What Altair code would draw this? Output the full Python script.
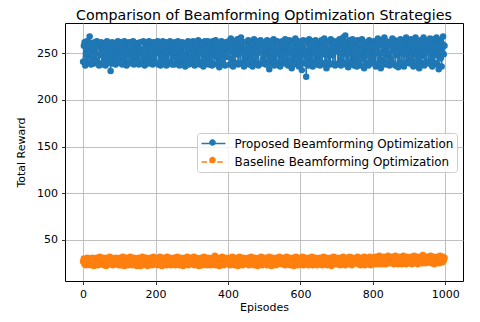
import altair as alt
import pandas as pd

episodes = list(range(0, 1000, 2))

proposed = [
    241, 258, 262, 237, 255, 263, 246, 240, 259, 268, 251, 238, 261, 256, 244, 239, 262, 250, 242, 263, 257, 240, 237, 260, 248,
    262, 238, 253, 260, 241, 258, 237, 246, 263, 259, 240, 255, 243, 231, 250, 262, 239, 257, 245, 261, 238, 254, 241, 263, 247,
    259, 240, 262, 251, 238, 257, 244, 263, 241, 255, 237, 261, 250, 239, 262, 253, 240, 259, 245, 263, 238, 252, 261, 241, 256,
    243, 261, 238, 255, 262, 240, 253, 239, 263, 248, 237, 259, 242, 262, 256, 239, 263, 247, 240, 260, 252, 238, 262, 244, 257,
    240, 259, 250, 263, 238, 254, 261, 237, 258, 243, 263, 240, 256, 244, 262, 237, 251, 260, 241, 257, 263, 239, 252, 238, 261,
    252, 238, 262, 245, 259, 240, 263, 254, 237, 260, 243, 256, 262, 239, 258, 248, 236, 261, 242, 257, 263, 238, 247, 262, 240,
    259, 239, 263, 252, 237, 261, 244, 258, 240, 264, 250, 238, 262, 255, 241, 260, 236, 253, 263, 239, 257, 245, 263, 238, 256,
    241, 260, 250, 237, 263, 255, 239, 258, 264, 246, 238, 261, 252, 235, 259, 242, 263, 250, 239, 260, 254, 237, 262, 246, 258,
    253, 263, 238, 257, 266, 244, 261, 236, 255, 263, 240, 258, 249, 265, 238, 261, 252, 240, 267, 256, 239, 262, 236, 255, 245,
    262, 240, 256, 264, 238, 252, 263, 243, 260, 236, 254, 265, 241, 259, 239, 263, 250, 237, 262, 255, 264, 239, 257, 243, 261,
    248, 262, 238, 256, 264, 241, 260, 233, 252, 263, 239, 257, 244, 265, 237, 261, 250, 240, 263, 254, 238, 262, 236, 257, 242,
    263, 243, 258, 239, 265, 252, 240, 261, 237, 256, 264, 242, 254, 234, 262, 248, 238, 260, 266, 243, 255, 239, 263, 236, 258,
    241, 262, 232, 256, 264, 239, 253, 263, 225, 250, 261, 237, 265, 244, 257, 240, 263, 236, 254, 262, 241, 264, 238, 252, 259,
    244, 261, 237, 255, 264, 240, 259, 249, 266, 238, 256, 234, 263, 251, 240, 262, 238, 265, 248, 257, 239, 263, 254, 237, 261,
    252, 263, 239, 257, 265, 243, 237, 261, 249, 267, 240, 256, 269, 238, 262, 250, 235, 259, 264, 241, 257, 239, 265, 248, 237,
    262, 243, 257, 236, 264, 251, 239, 263, 254, 237, 265, 244, 259, 234, 262, 248, 240, 261, 253, 237, 264, 255, 239, 260, 245,
    257, 240, 263, 249, 236, 262, 253, 266, 239, 259, 244, 234, 264, 250, 261, 241, 267, 238, 255, 263, 240, 258, 247, 237, 262,
    243, 261, 266, 239, 254, 264, 237, 258, 248, 263, 235, 260, 241, 265, 252, 239, 262, 255, 236, 264, 249, 267, 240, 257, 244,
    261, 239, 254, 265, 242, 259, 236, 263, 249, 267, 238, 257, 244, 262, 234, 252, 264, 240, 259, 247, 267, 237, 255, 263, 241,
    257, 264, 239, 252, 266, 243, 261, 236, 255, 265, 240, 259, 248, 267, 238, 262, 233, 254, 264, 245, 236, 260, 268, 249, 258,
]

baseline = [
    27, 30, 24, 29, 23, 28, 31, 25, 30, 27, 23, 29, 26, 31, 24, 22, 30, 27, 25, 31, 28, 23, 29, 32, 25,
    29, 24, 27, 31, 23, 28, 30, 22, 31, 25, 29, 27, 32, 24, 26, 30, 23, 29, 27, 24, 31, 25, 28, 30, 23,
    26, 31, 23, 29, 25, 32, 27, 22, 30, 24, 31, 26, 23, 29, 27, 32, 24, 30, 23, 28, 31, 25, 29, 26, 22,
    30, 24, 31, 27, 22, 29, 26, 32, 23, 30, 25, 28, 31, 24, 22, 29, 27, 25, 31, 28, 23, 30, 32, 24, 27,
    24, 30, 27, 23, 31, 26, 32, 25, 29, 22, 27, 31, 24, 30, 28, 23, 32, 26, 25, 29, 31, 23, 27, 30, 24,
    31, 27, 23, 29, 25, 32, 26, 30, 23, 28, 31, 24, 29, 22, 27, 31, 25, 30, 26, 32, 23, 28, 30, 24, 31,
    27, 24, 30, 32, 23, 28, 31, 25, 29, 26, 22, 30, 24, 31, 27, 23, 29, 32, 25, 27, 30, 23, 31, 26, 24,
    30, 23, 27, 31, 24, 29, 26, 33, 23, 30, 25, 27, 31, 22, 29, 26, 24, 32, 27, 23, 30, 31, 25, 27, 29,
    24, 31, 27, 23, 30, 25, 32, 26, 29, 23, 27, 31, 24, 30, 22, 28, 32, 25, 29, 26, 23, 31, 27, 24, 30,
    27, 30, 24, 31, 23, 28, 29, 32, 25, 30, 26, 23, 31, 24, 29, 27, 22, 30, 31, 25, 27, 32, 23, 29, 26,
    30, 25, 31, 27, 23, 29, 26, 32, 24, 30, 22, 27, 31, 25, 29, 26, 23, 31, 30, 24, 27, 32, 25, 29, 26,
    24, 31, 27, 29, 23, 26, 32, 25, 30, 27, 31, 23, 29, 24, 27, 31, 22, 30, 26, 32, 25, 29, 23, 27, 31,
    27, 30, 25, 32, 23, 29, 26, 31, 24, 30, 27, 23, 31, 26, 24, 29, 32, 23, 27, 30, 25, 31, 27, 23, 29,
    30, 26, 31, 24, 29, 23, 27, 32, 25, 30, 26, 31, 23, 29, 24, 27, 31, 26, 22, 30, 25, 32, 27, 29, 24,
    27, 31, 24, 30, 26, 23, 31, 29, 25, 32, 27, 30, 23, 27, 31, 24, 29, 26, 32, 25, 30, 23, 31, 27, 29,
    29, 25, 31, 27, 32, 24, 30, 27, 23, 31, 29, 25, 27, 32, 23, 30, 26, 31, 24, 29, 27, 32, 23, 29, 31,
    27, 31, 29, 24, 32, 29, 26, 31, 24, 33, 29, 26, 31, 24, 29, 32, 26, 30, 24, 31, 27, 33, 29, 25, 31,
    28, 32, 26, 31, 24, 29, 33, 26, 31, 29, 24, 32, 28, 25, 31, 24, 29, 33, 26, 31, 28, 24, 32, 29, 26,
    31, 26, 32, 28, 24, 31, 29, 33, 26, 31, 28, 32, 24, 31, 29, 26, 32, 30, 25, 34, 32, 27, 31, 25, 32,
    28, 32, 26, 31, 28, 33, 25, 31, 28, 32, 24, 31, 29, 26, 32, 28, 31, 25, 33, 28, 31, 26, 32, 28, 31,
]

series_names = ["Proposed Beamforming Optimization", "Baseline Beamforming Optimization"]
colors = ["#1f77b4", "#ff7f0e"]
x_ticks = [0, 200, 400, 600, 800, 1000]
y_ticks = [50, 100, 150, 200, 250]

df = pd.DataFrame({
    "episode": episodes + episodes,
    "reward": proposed + baseline,
    "series": [series_names[0]] * len(episodes) + [series_names[1]] * len(episodes),
})
df["series2"] = df["series"]

FONT = "DejaVu Sans"

x = alt.X("episode:Q", scale=alt.Scale(domain=[-50, 1049], nice=False, zero=False),
          axis=alt.Axis(values=x_ticks, format="d", title="Episodes", titlePadding=2))
y = alt.Y("reward:Q", scale=alt.Scale(domain=[6, 282.5], nice=False, zero=False),
          axis=alt.Axis(values=y_ticks, format="d", title="Total Reward", titlePadding=10))

leg_common = dict(
    orient="none", legendX=132, legendY=110, title=None,
    symbolSize=144, symbolOffset=6, labelOffset=14, labelLimit=400,
    labelFont=FONT, labelFontSize=11.9, labelColor="black",
    padding=3.5, rowPadding=5.5,
)

legA = alt.Legend(
    symbolType="M-2,0H2", symbolStrokeWidth=1.5,
    fillColor="rgba(255,255,255,0.8)", strokeColor="#cccccc", cornerRadius=3,
    **leg_common,
)
legB = alt.Legend(
    symbolType="M0.55,0A0.55,0.55,0,1,1,-0.55,0A0.55,0.55,0,1,1,0.55,0Z",
    symbolStrokeWidth=0, symbolOpacity=1, labelExpr="''", zindex=2,
    **leg_common,
)

line = alt.Chart(df).mark_line(strokeWidth=1.5).encode(
    x=x, y=y,
    color=alt.Color("series:N", scale=alt.Scale(domain=series_names, range=colors), legend=legA),
    strokeDash=alt.StrokeDash("series:N", scale=alt.Scale(domain=series_names, range=[[1, 0], [5.5, 2.4]]), legend=legA),
)

pts = alt.Chart(df).mark_point(filled=True, size=42, opacity=1, strokeWidth=0).encode(
    x=x, y=y,
    fill=alt.Fill("series2:N", sort="descending", scale=alt.Scale(range=colors), legend=legB),
)

chart = alt.layer(line, pts).properties(
    width=398, height=258,
    title=alt.Title("Comparison of Beamforming Optimization Strategies", font=FONT, fontSize=14.2,
                    fontWeight="normal", color="black", offset=0),
    autosize=alt.AutoSizeParams(type="none"),
    padding={"left": 57, "top": 15, "right": 9, "bottom": 33},
).configure_view(
    stroke="black", strokeWidth=1
).configure_axis(
    domain=False, tickColor="black", tickSize=3.5, tickWidth=0.8,
    labelFont=FONT, labelFontSize=11, labelColor="black", labelPadding=4,
    titleFont=FONT, titleFontSize=11, titleFontWeight="normal", titleColor="black",
    gridColor="#b0b0b0", gridWidth=0.8, gridOpacity=1,
)

chart.save("out.html", embed_options={"renderer": "svg", "actions": False})
